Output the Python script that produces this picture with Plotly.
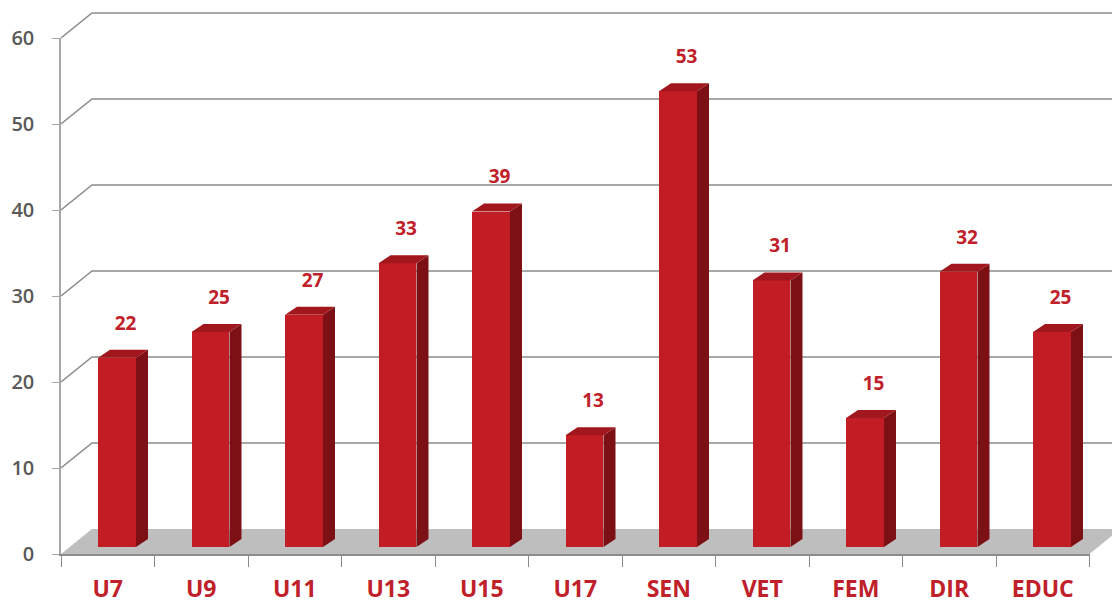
import plotly.graph_objects as go

# ---- data ----
categories = ["U7", "U9", "U11", "U13", "U15", "U17", "SEN", "VET", "FEM", "DIR", "EDUC"]
values = [22, 25, 27, 33, 39, 13, 53, 31, 15, 32, 25]
y_ticks = [0, 10, 20, 30, 40, 50, 60]

# ---- geometry / style ----
W, H = 1112, 606
ML, MB = 61, 52
PX_X = 93.5          # px per category
PX_Y = 8.6           # px per value unit
plot_w = W - ML
plot_h = H - MB
x_min = -0.5
x_max = x_min + plot_w / PX_X
y_max = plot_h / PX_Y
n = len(categories)

wall_dx = 31 / PX_X
wall_dy = 25 / PX_Y
bar_shift = 0.099
bar_w = 0.406
bar_base = 7 / PX_Y
bar_dx = 12 / PX_X
bar_dy = 8 / PX_Y
label_dx = 0.19
label_dy = 25 / PX_Y

RED = "#c21d25"
RED_SIDE = "#7c1015"
RED_TOP = "#a1171d"
LABEL_RED = "#c0202a"
GRID = "#8c8c8c"
FLOOR = "#bebebe"
TICK_GRAY = "#595959"

fig = go.Figure()

# front faces
xs = [i + bar_shift for i in range(n)]
fig.add_trace(go.Bar(
    x=xs, y=values, base=bar_base, width=bar_w,
    marker=dict(color=RED, line=dict(width=0)),
    showlegend=False, hoverinfo="skip",
))

# side faces and top faces
side_x, side_y, top_x, top_y = [], [], [], []
for i, v in enumerate(values):
    xl = i + bar_shift - bar_w / 2
    xr = i + bar_shift + bar_w / 2
    b = bar_base
    t = bar_base + v
    side_x += [xr, xr + bar_dx, xr + bar_dx, xr, xr, None]
    side_y += [b, b + bar_dy, t + bar_dy, t, b, None]
    top_x += [xl, xl + bar_dx, xr + bar_dx, xr, xl, None]
    top_y += [t, t + bar_dy, t + bar_dy, t, t, None]

fig.add_trace(go.Scatter(x=side_x, y=side_y, mode="lines", fill="toself",
                         fillcolor=RED_SIDE, line=dict(width=0, color=RED_SIDE),
                         showlegend=False, hoverinfo="skip"))
fig.add_trace(go.Scatter(x=top_x, y=top_y, mode="lines", fill="toself",
                         fillcolor=RED_TOP, line=dict(width=0, color=RED_TOP),
                         showlegend=False, hoverinfo="skip"))

# value labels
fig.add_trace(go.Scatter(
    x=[i + label_dx for i in range(n)],
    y=[bar_base + v + bar_dy + label_dy for v in values],
    mode="text", text=[str(v) for v in values], textposition="middle center",
    textfont=dict(family="Open Sans", size=19, color=LABEL_RED, weight="bold"),
    showlegend=False, hoverinfo="skip", cliponaxis=False,
))

# dummy trace to create the front axes subplot
fig.add_trace(go.Scatter(x=[None], y=[None], xaxis="x2", yaxis="y2",
                         showlegend=False, hoverinfo="skip"))

shapes = []
# floor
x0, x1 = -0.5, n - 0.5
shapes.append(dict(
    type="path", xref="x", yref="y", layer="below",
    path=f"M {x0},0 L {x0 + wall_dx},{wall_dy} L {x1 + wall_dx},{wall_dy} L {x1},0 Z",
    fillcolor=FLOOR, line=dict(width=0),
))
# back-wall gridlines
for t in y_ticks[1:]:
    shapes.append(dict(
        type="path", xref="x", yref="y", layer="below",
        path=f"M {x0},{t} L {x0 + wall_dx},{t + wall_dy} L {x_max},{t + wall_dy}",
        line=dict(color=GRID, width=1.5),
    ))

fig.update_layout(
    width=W, height=H,
    margin=dict(l=ML, r=0, t=0, b=MB, autoexpand=False),
    paper_bgcolor="white", plot_bgcolor="rgba(0,0,0,0)",
    shapes=shapes,
    bargap=0,
    xaxis=dict(
        range=[x_min, x_max], domain=[0, 1], automargin=False,
        tickvals=list(range(n)), ticktext=categories, ticks="",
        showgrid=False, zeroline=False, showline=False,
        tickfont=dict(family="Open Sans", size=23, color=LABEL_RED, weight="bold"),
        ticklabelstandoff=19, fixedrange=True,
    ),
    yaxis=dict(
        range=[0, y_max], domain=[0, 1], visible=False, fixedrange=True, automargin=False,
    ),
    xaxis2=dict(
        range=[-0.5, n - 0.5], domain=[0, (n * PX_X) / plot_w], anchor="y2",
        tickvals=[k - 0.5 for k in range(n + 1)], ticks="outside", ticklen=11,
        tickcolor=GRID, tickwidth=1.2, showticklabels=False, automargin=False,
        showline=True, linecolor=GRID, linewidth=1.5,
        showgrid=False, zeroline=False, fixedrange=True,
    ),
    yaxis2=dict(
        range=[0, y_ticks[-1]], domain=[0, y_ticks[-1] * PX_Y / plot_h], anchor="x2",
        tickvals=y_ticks, ticks="outside", ticklen=7, tickcolor="#a6a6a6", tickwidth=1.2,
        showline=True, linecolor="#a6a6a6", linewidth=1.5, automargin=False,
        showgrid=False, zeroline=False,
        tickfont=dict(family="Open Sans", size=20, color=TICK_GRAY, weight=600),
        ticklabelstandoff=14, fixedrange=True,
    ),
)

fig.write_html("out.html", config={"displayModeBar": False},
               post_script="document.body.style.margin='0';")
